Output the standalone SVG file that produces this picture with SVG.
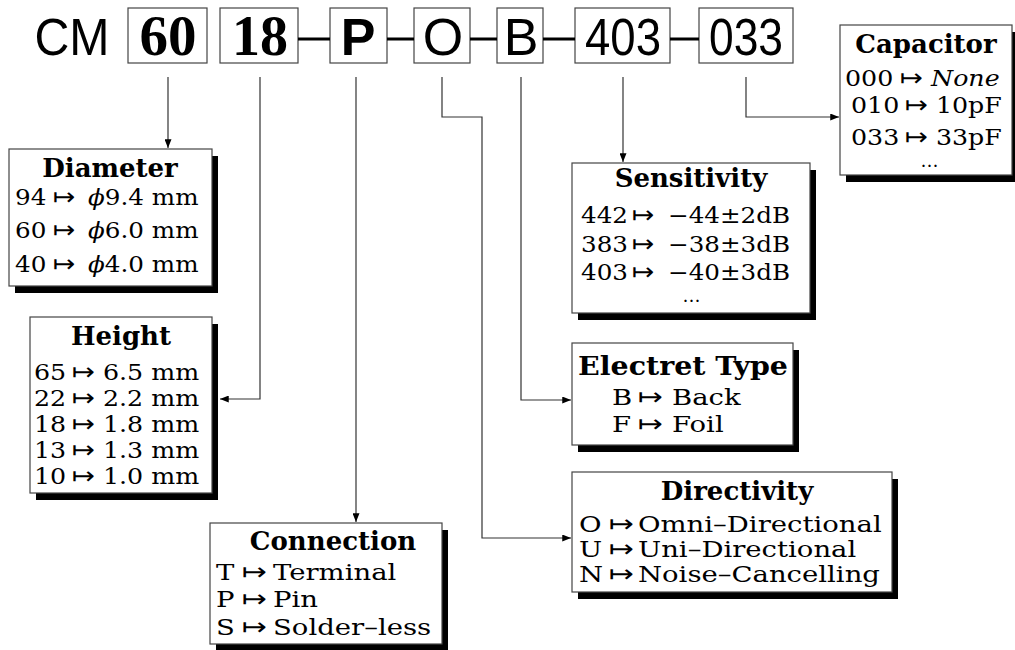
<svg xmlns="http://www.w3.org/2000/svg" width="1015" height="650" viewBox="0 0 1015 650">
<defs>
<style>
.tbox{fill:#fff;stroke:#444;stroke-width:1.2}
.box{fill:#fff;stroke:#444;stroke-width:1.2}
.shadow{fill:#000}
.top{font-family:"Liberation Sans",Arial,sans-serif;font-size:52px;fill:#000;text-anchor:middle}
.topb{font-family:"Liberation Serif","Times New Roman",serif;font-weight:bold;font-size:56px;fill:#000;text-anchor:middle}
.topsb{font-family:"Liberation Sans",Arial,sans-serif;font-weight:bold;font-size:52px;fill:#000;text-anchor:middle}
.head{font-family:"DejaVu Serif",serif;font-weight:bold;font-size:26px;fill:#000;text-anchor:middle}
.row{font-family:"DejaVu Serif",serif;font-size:22px;fill:#000}
.dots{font-family:"DejaVu Serif",serif;font-size:18px;fill:#000;text-anchor:middle;letter-spacing:1px}
.ar{font-family:"DejaVu Sans",sans-serif;font-size:24px}
.it{font-style:italic}
.dash{stroke:#000;stroke-width:3}
.conn{fill:none;stroke:#333;stroke-width:1.2;marker-end:url(#arr)}
</style>
<marker id="arr" viewBox="0 0 10 8" refX="10" refY="4" markerWidth="10" markerHeight="7" orient="auto" markerUnits="userSpaceOnUse"><path d="M0,0 L10,4 L0,8 z" fill="#000"/></marker>
</defs>
<rect width="1015" height="650" fill="#fff"/>

<g id="code">
<text class="top" x="72" y="55" textLength="75" lengthAdjust="spacingAndGlyphs">CM</text>
<g id="code-60"><rect class="tbox" x="128" y="8" width="79" height="55"/><text class="topb" x="168" y="55" textLength="57" lengthAdjust="spacingAndGlyphs">60</text></g>
<g id="code-18"><rect class="tbox" x="220" y="8" width="78" height="55"/><text class="topb" x="260" y="55" textLength="56" lengthAdjust="spacingAndGlyphs">18</text></g>
<g id="code-P"><rect class="tbox" x="330" y="8" width="57" height="55"/><text class="topsb" x="358" y="55">P</text></g>
<g id="code-O"><rect class="tbox" x="414" y="8" width="56" height="55"/><text class="top" x="443" y="55">O</text></g>
<g id="code-B"><rect class="tbox" x="497" y="8" width="46" height="55"/><text class="top" x="521" y="55">B</text></g>
<g id="code-403"><rect class="tbox" x="575" y="8" width="95" height="55"/><text class="top" x="623" y="55" textLength="76" lengthAdjust="spacingAndGlyphs">403</text></g>
<g id="code-033"><rect class="tbox" x="699" y="8" width="94" height="55"/><text class="top" x="746" y="55" textLength="74" lengthAdjust="spacingAndGlyphs">033</text></g>
<line class="dash" x1="298" y1="39" x2="330" y2="39"/>
<line class="dash" x1="387" y1="39" x2="414" y2="39"/>
<line class="dash" x1="470" y1="39" x2="497" y2="39"/>
<line class="dash" x1="543" y1="39" x2="575" y2="39"/>
<line class="dash" x1="670" y1="39" x2="699" y2="39"/>
</g>

<g id="connectors">
<path class="conn" d="M168,77 V148"/>
<path class="conn" d="M260,77 V399 H220"/>
<path class="conn" d="M356,77 V522"/>
<path class="conn" d="M442,77 V117 H482 V538 H571"/>
<path class="conn" d="M521,77 V400 H571"/>
<path class="conn" d="M623,77 V162"/>
<path class="conn" d="M746,77 V117 H839"/>
</g>

<g id="diameter">
<rect class="shadow" x="15" y="156" width="203" height="137"/>
<rect class="box" x="9" y="149" width="203" height="137"/>
<text class="head" x="110" y="177">Diameter</text>
<g transform="matrix(1.12,0,0,1,-1.8,0)">
<text class="row" y="205"><tspan x="15">94</tspan><tspan class="ar" x="48.9">↦</tspan><tspan class="it" x="80.2">ϕ</tspan><tspan>9.4 mm</tspan></text>
<text class="row" y="238"><tspan x="15">60</tspan><tspan class="ar" x="48.9">↦</tspan><tspan class="it" x="80.2">ϕ</tspan><tspan>6.0 mm</tspan></text>
<text class="row" y="272"><tspan x="15">40</tspan><tspan class="ar" x="48.9">↦</tspan><tspan class="it" x="80.2">ϕ</tspan><tspan>4.0 mm</tspan></text>
</g>
</g>

<g id="height">
<rect class="shadow" x="36" y="324" width="182" height="176"/>
<rect class="box" x="30" y="317" width="182" height="176"/>
<text class="head" x="121" y="345">Height</text>
<g transform="matrix(1.15,0,0,1,-5.1,0)">
<text class="row" y="380"><tspan x="34">65</tspan><tspan class="ar" x="67">↦</tspan><tspan x="94">6.5 mm</tspan></text>
<text class="row" y="406"><tspan x="34">22</tspan><tspan class="ar" x="67">↦</tspan><tspan x="94">2.2 mm</tspan></text>
<text class="row" y="432"><tspan x="34">18</tspan><tspan class="ar" x="67">↦</tspan><tspan x="94">1.8 mm</tspan></text>
<text class="row" y="458"><tspan x="34">13</tspan><tspan class="ar" x="67">↦</tspan><tspan x="94">1.3 mm</tspan></text>
<text class="row" y="484"><tspan x="34">10</tspan><tspan class="ar" x="67">↦</tspan><tspan x="94">1.0 mm</tspan></text>
</g>
</g>

<g id="connection">
<rect class="shadow" x="216" y="530" width="232" height="121"/>
<rect class="box" x="210" y="523" width="232" height="121"/>
<text class="head" x="333" y="550">Connection</text>
<g transform="matrix(1.25,0,0,1,-54,0)">
<text class="row" y="580"><tspan x="216">T</tspan><tspan class="ar" x="236.8">↦</tspan><tspan x="261.6">Terminal</tspan></text>
<text class="row" y="607"><tspan x="216">P</tspan><tspan class="ar" x="236.8">↦</tspan><tspan x="261.6">Pin</tspan></text>
<text class="row" y="635"><tspan x="216">S</tspan><tspan class="ar" x="236.8">↦</tspan><tspan x="261.6">Solder–less</tspan></text>
</g>
</g>

<g id="sensitivity">
<rect class="shadow" x="578" y="170" width="238" height="150"/>
<rect class="box" x="572" y="163" width="238" height="150"/>
<text class="head" x="691" y="187">Sensitivity</text>
<g transform="matrix(1.12,0,0,1,-69.72,0)">
<text class="row" y="223"><tspan x="581">442</tspan><tspan class="ar" x="626.5">↦</tspan><tspan x="658.7">−44±2dB</tspan></text>
<text class="row" y="252"><tspan x="581">383</tspan><tspan class="ar" x="626.5">↦</tspan><tspan x="658.7">−38±3dB</tspan></text>
<text class="row" y="280"><tspan x="581">403</tspan><tspan class="ar" x="626.5">↦</tspan><tspan x="658.7">−40±3dB</tspan></text>
</g>
<text class="dots" x="692" y="302">…</text>
</g>

<g id="electret">
<rect class="shadow" x="578" y="350" width="221" height="102"/>
<rect class="box" x="572" y="343" width="221" height="102"/>
<text class="head" x="683" y="375" textLength="210" lengthAdjust="spacingAndGlyphs">Electret Type</text>
<g transform="matrix(1.25,0,0,1,-153,0)">
<text class="row" y="405"><tspan x="612">B</tspan><tspan class="ar" x="632.8">↦</tspan><tspan x="660">Back</tspan></text>
<text class="row" y="432"><tspan x="612">F</tspan><tspan class="ar" x="632.8">↦</tspan><tspan x="660">Foil</tspan></text>
</g>
</g>

<g id="directivity">
<rect class="shadow" x="578" y="479" width="320" height="120"/>
<rect class="box" x="572" y="472" width="320" height="120"/>
<text class="head" x="737" y="500">Directivity</text>
<g transform="matrix(1.25,0,0,1,-144.75,0)">
<text class="row" y="532"><tspan x="579">O</tspan><tspan class="ar" x="603">↦</tspan><tspan x="626.2">Omni–Directional</tspan></text>
<text class="row" y="557"><tspan x="579">U</tspan><tspan class="ar" x="603">↦</tspan><tspan x="626.2">Uni–Directional</tspan></text>
<text class="row" y="582"><tspan x="579">N</tspan><tspan class="ar" x="603">↦</tspan><tspan x="626.2">Noise–Cancelling</tspan></text>
</g>
</g>

<g id="capacitor">
<rect class="shadow" x="846" y="32" width="172" height="150"/>
<rect class="box" x="840" y="25" width="172" height="150"/>
<text class="head" x="926" y="53">Capacitor</text>
<g transform="matrix(1.15,0,0,1,-126.75,0)">
<text class="row" y="86"><tspan x="845">000</tspan><tspan class="ar" x="892.8">↦</tspan><tspan class="it" x="919.8">None</tspan></text>
<text class="row" y="113"><tspan x="850.2">010</tspan><tspan class="ar" x="897.2">↦</tspan><tspan x="924.1">10pF</tspan></text>
<text class="row" y="145"><tspan x="850.2">033</tspan><tspan class="ar" x="897.2">↦</tspan><tspan x="924.1">33pF</tspan></text>
</g>
<text class="dots" x="930" y="167">…</text>
</g>
</svg>
